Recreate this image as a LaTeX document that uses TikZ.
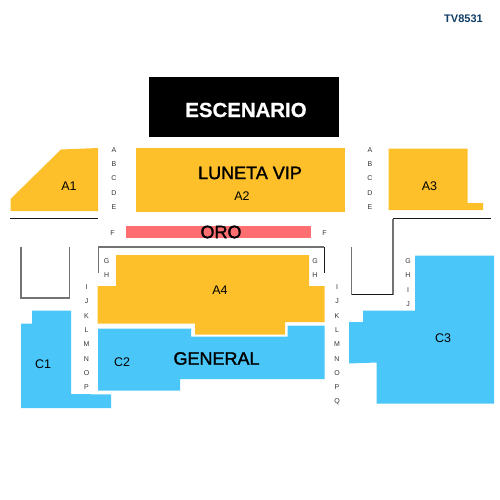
\documentclass[tikz,border=0pt]{standalone}
\usepackage{fontspec}
\setmainfont{Liberation Sans}
\newfontfamily\heavyfont[FakeBold=1.6]{Liberation Sans}
\newfontfamily\heavyboldfont[BoldFont={Liberation Sans Bold},BoldFeatures={FakeBold=0.6}]{Liberation Sans}
\definecolor{gold}{HTML}{FDC02B}
\definecolor{sky}{HTML}{4BC6F9}
\definecolor{salmon}{HTML}{FF6F72}
\definecolor{navy}{HTML}{0F3D66}
\definecolor{rowgrey}{HTML}{333333}
\tikzset{
  goldzone/.style={fill=gold,draw=none},
  skyzone/.style={fill=sky,draw=none},
  rail/.style={draw=black!55,line width=1.1pt},
  blackrail/.style={draw=black!90,line width=1pt},
  rowlabel/.style={font=\fontsize{7}{8}\selectfont,text=rowgrey,inner sep=0pt},
  seclabel/.style={font=\fontsize{12.5}{14}\selectfont,text=black,inner sep=0pt},
  biglabel/.style={font=\heavyfont\fontsize{18}{20}\selectfont,text=black,inner sep=0pt},
}
\begin{document}
\begin{tikzpicture}[x=1pt,y=-1pt]
\useasboundingbox (0,0) rectangle (500,500);
\fill[black] (149,77) rectangle (339,137);
\node[inner sep=0pt,text=white,font=\heavyboldfont\fontsize{20.4}{24}\selectfont\bfseries] (esc) at (246,110) {ESCENARIO};
\node[inner sep=0pt,text=navy,font=\fontsize{11}{13}\selectfont\bfseries] (code) at (463.5,19) {TV8531};
% zones
\fill[goldzone] (61,149.5) -- (98,148) -- (98,211) -- (10.5,211) -- (10.5,199) -- cycle;
\fill[goldzone] (136,148) rectangle (345,212);
\fill[goldzone] (388.5,148.5) -- (467.5,148.5) -- (467.5,203) -- (483,203) -- (483,210) -- (388.5,210) -- cycle;
\fill[salmon] (126,226) rectangle (311,238);
\fill[goldzone] (116,255) -- (309,255) -- (309,286) -- (324.5,286) -- (324.5,322) -- (285,322) -- (285,334.5) -- (195,334.5) -- (195,323.5) -- (97.5,323.5) -- (97.5,286) -- (116,286) -- cycle;
\fill[skyzone] (98,328.5) -- (191,328.5) -- (191,336.5) -- (287.5,336.5) -- (287.5,325.5) -- (324.5,325.5) -- (324.5,379) -- (180,379) -- (180,390.5) -- (98,390.5) -- cycle;
\fill[skyzone] (32,310.5) -- (71,310.5) -- (71,394) -- (111,394.5) -- (111,408) -- (21,408) -- (21,323.5) -- (32,323.5) -- cycle;
\fill[skyzone] (415,255.5) -- (494,255.5) -- (494,403.5) -- (376.5,403.5) -- (376.5,362.5) -- (349,363.5) -- (349,322) -- (363,322) -- (363,310.5) -- (415,310.5) -- cycle;
% rails
\draw[blackrail] (10,218) -- (98,218);
\draw[rail] (21,247) -- (21,298) -- (69.5,298) -- (69.5,247);
\draw[rail] (98.7,272.7) -- (98.7,247) -- (324.3,247);
\draw[blackrail] (324.3,247) -- (324.3,272.7);
\draw[rail] (393,218.5) -- (393,294.5);
\draw[rail] (351.5,294.5) -- (351.5,247);
\draw[blackrail] (490.5,218.5) -- (393,218.5);
\draw[blackrail] (393,294.5) -- (351.5,294.5);
% section labels
\node[seclabel] (a1) at (69,186) {A1};
\node[seclabel] (a2) at (242,196) {A2};
\node[seclabel] (a3) at (429.5,186) {A3};
\node[seclabel] (a4) at (220,290) {A4};
\node[seclabel] (c1) at (43,364) {C1};
\node[seclabel] (c2) at (122,362) {C2};
\node[seclabel] (c3) at (443,338) {C3};
\node[biglabel] (vip) at (250,173) {LUNETA VIP};
\node[biglabel] (oro) at (221,232) {ORO};
\node[biglabel] (gen) at (216.5,358.5) {GENERAL};
% row letters
\foreach \t/\y in {A/150,B/164.5,C/178.5,D/193,E/207.5}{
  \node[rowlabel] (l\t) at (114,\y) {\t};
  \node[rowlabel] (r\t) at (370,\y) {\t};
}
\node[rowlabel] (lF) at (112.5,233) {F};
\node[rowlabel] (rF) at (324.5,233) {F};
\foreach \t/\y in {G/261,H/275.5}{
  \node[rowlabel] (lc\t) at (106.7,\y) {\t};
  \node[rowlabel] (rc\t) at (315,\y) {\t};
}
\foreach \t/\y in {G/261,H/275.5,I/290,J/304}{
  \node[rowlabel] (rr\t) at (408,\y) {\t};
}
\foreach \t/\y in {I/287,J/301.5,K/316,L/330,M/344.5,N/359,O/373,P/387.5}{
  \node[rowlabel] (ll\t) at (86.5,\y) {\t};
  \node[rowlabel] (rm\t) at (337,\y) {\t};
}
\node[rowlabel] (rmQ) at (337,402) {Q};
\end{tikzpicture}
\end{document}
